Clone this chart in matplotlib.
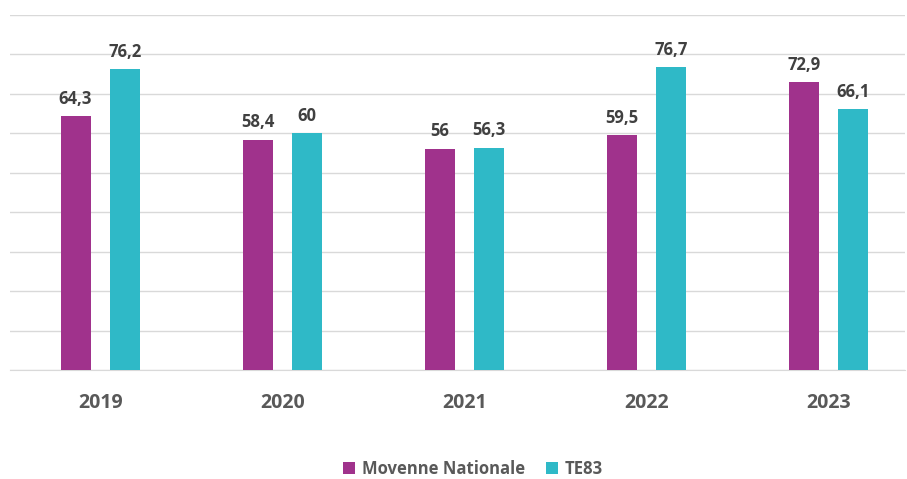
import matplotlib.pyplot as plt
import numpy as np

# --- Data ---
annees = ['2019', '2020', '2021', '2022', '2023']
moyenne_nationale = [64.3, 58.4, 56.0, 59.5, 72.9]
te83 = [76.2, 60.0, 56.3, 76.7, 66.1]

couleur_mn = '#A0328C'
couleur_te = '#2FB9C7'

def fmt(v):
    s = f'{v:.1f}'.replace('.', ',')
    return s[:-2] if s.endswith(',0') else s

plt.rcParams['font.family'] = ['Open Sans', 'DejaVu Sans']

fig = plt.figure(figsize=(9.07, 4.79), dpi=100)
ax = fig.add_axes([10 / 907, 109 / 479, 895 / 907, 355 / 479])

x = np.arange(len(annees))
bredde = 0.165
off = 0.135
b1 = ax.bar(x - off, moyenne_nationale, bredde, color=couleur_mn, label='Movenne Nationale', zorder=3)
b2 = ax.bar(x + off, te83, bredde, color=couleur_te, label='TE83', zorder=3)

for bars, vals in ((b1, moyenne_nationale), (b2, te83)):
    for b, v in zip(bars, vals):
        ax.text(b.get_x() + b.get_width() / 2, v + 2.2, fmt(v), ha='center', va='bottom',
                fontsize=12, fontweight='bold', color='#404040')

ax.set_ylim(0, 90)
ax.set_xlim(-0.495, 4.42)
ax.set_yticks(np.arange(0, 91, 10))
ax.yaxis.grid(True, color='#D9D9D9', linewidth=1, zorder=0)
ax.tick_params(axis='y', left=False, labelleft=False)
ax.tick_params(axis='x', bottom=False, pad=13)
ax.set_xticks(x)
ax.set_xticklabels(annees, fontsize=14, fontweight='bold', color='#595959')
for s in ['top', 'right', 'left']:
    ax.spines[s].set_visible(False)
ax.spines['bottom'].set_color('#D9D9D9')

leg = fig.legend(handles=[b1, b2], loc='center', bbox_to_anchor=(473 / 907, 1 - 469 / 479), ncol=2,
                 frameon=False, handlelength=0.7, handleheight=0.7, columnspacing=1.3, handletextpad=0.4,
                 borderpad=0.1, prop={'size': 12, 'weight': 'bold'})
for t in leg.get_texts():
    t.set_color('#595959')

fig.savefig('out.png', dpi=100)
